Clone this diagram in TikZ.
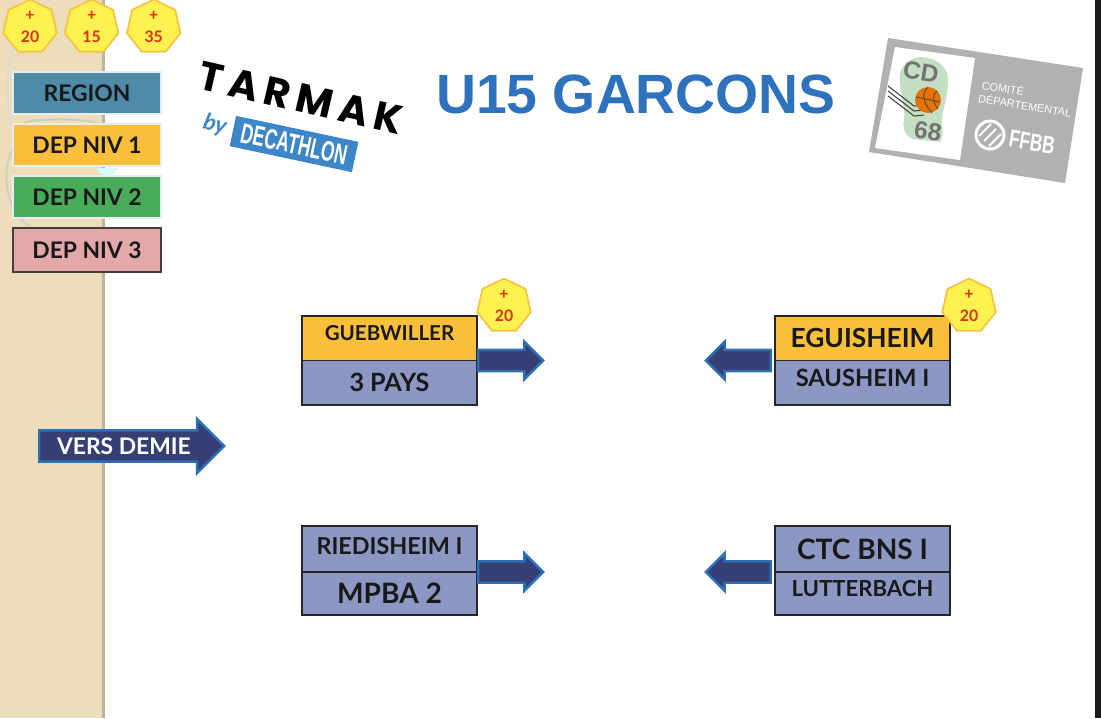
\documentclass[tikz,border=0pt]{standalone}
\usepackage{fontspec}
\setmainfont{Lato}
\newfontfamily\titlefont{Liberation Sans}
\newfontfamily\tarmakfont[LetterSpace=16]{Poppins}
\usetikzlibrary{positioning}
\usetikzlibrary{shapes.geometric}
\usetikzlibrary{shapes.arrows}

\definecolor{panelbeige}{HTML}{EEDDBA}
\definecolor{paneledge}{HTML}{BDB49C}
\definecolor{badgeyellow}{HTML}{FFF14F}
\definecolor{badgeedge}{HTML}{F5C445}
\definecolor{badgered}{HTML}{D9301C}
\definecolor{regionblue}{HTML}{4E8BA9}
\definecolor{niv1}{HTML}{FBBF3C}
\definecolor{niv2}{HTML}{4AAB5A}
\definecolor{niv3}{HTML}{E3A8A8}
\definecolor{teamblue}{HTML}{8C97C4}
\definecolor{arrowfill}{HTML}{353F73}
\definecolor{arrowedge}{HTML}{2E6FB5}
\definecolor{titleblue}{HTML}{2E72BE}
\definecolor{decablue}{HTML}{3D86C8}
\definecolor{logogray}{HTML}{B0B2B1}
\definecolor{logogreen}{HTML}{C5DFC5}

\newcommand{\fsize}[1]{\fontsize{#1}{#1}\selectfont}

\tikzset{
    badge/.style={regular polygon, regular polygon sides=7, minimum size=1.1cm, inner sep=0pt, fill=badgeyellow, draw=badgeedge, line width=1pt, text=badgered, align=center, font=\fontsize{9pt}{12.5pt}\selectfont\bfseries},
    legendbox/.style={rectangle, minimum width=2.96cm, minimum height=0.84cm, inner sep=0pt, outer sep=0pt, draw=white!85!regionblue, line width=0.8pt, font=\fsize{13pt}\bfseries, text=black!90},
    teambox/.style={rectangle, minimum width=3.5cm, minimum height=0.89cm, inner sep=0pt, outer sep=0pt, draw=black!85, line width=0.8pt, fill=teamblue, text=black!90},
    matcharrow/.style={single arrow, anchor=tail, minimum height=1.3cm, inner xsep=0pt, inner ysep=0.19cm, single arrow head extend=0.16cm, fill=arrowfill, draw=arrowedge, line width=1.4pt},
}

\begin{document}
\begin{tikzpicture}[x=0.02cm, y=-0.02cm]
    \useasboundingbox (0, 0) rectangle (1101, 718);

    \fill [panelbeige] (0, 0) rectangle (102, 718);
    \fill [paneledge] (102, 0) rectangle (105, 718);
    \fill [black!90] (1095, 0) rectangle (1101, 718);
    \draw [white!85!black, line width=1pt] (50, 0) .. controls (10, 20) and (0, 80) .. (12, 125);
    \draw [white!80!black, line width=1pt] (12, 150) .. controls (0, 175) and (8, 215) .. (30, 226);
    \draw [white!80!black, line width=1pt] (25, 122) .. controls (50, 118) and (80, 118) .. (100, 124);
    \fill [blue!10!cyan!15] (96, 168) .. controls (102, 178) and (112, 178) .. (118, 168) -- cycle;

    \node [badge] (badgea) at (30, 27) {+\\20};
    \node [badge, right=0.18cm of badgea] (badgeb) {+\\15};
    \node [badge, right=0.19cm of badgeb] (badgec) {+\\35};

    \node [legendbox, fill=regionblue] (region) at (87, 93) {REGION};
    \node [legendbox, fill=niv1, below=0.2cm of region] (depa) {DEP NIV 1};
    \node [legendbox, fill=niv2, below=0.2cm of depa] (depb) {DEP NIV 2};
    \node [legendbox, fill=niv3, draw=black!75, minimum height=0.88cm, below=0.2cm of depb] (depc) {DEP NIV 3};

    \node [rotate=-13, text=black, font=\tarmakfont\fsize{23pt}\bfseries] (tarmak) at (301, 98) {TARMAK};
    \node [rotate=-15, text=decablue, font=\fsize{13pt}\bfseries\itshape] (by) at (215, 125) {by};
    \node [rotate=-12, fill=decablue, minimum width=2.5cm, minimum height=0.62cm, inner sep=0pt] (decabox) at (294, 144) {};
    \node [rotate=-12, xscale=0.62, text=white, font=\titlefont\fsize{16pt}\bfseries] (decathlon) at (decabox) {DECATHLON};

    \node [text=titleblue, font=\titlefont\fsize{31.5pt}\bfseries] (title) at (636, 94) {U15 GARCONS};

    \fill [logogray] (888, 38) -- (1083, 68) -- (1065, 183) -- (869, 152) -- cycle;
    \fill [white] (895, 47) -- (975, 58) -- (960, 160) -- (875, 148) -- cycle;
    \fill [logogreen] (920, 57) .. controls (940, 58) and (950, 70) .. (948, 83) .. controls (947, 100) and (943, 110) .. (942, 117) .. controls (941, 125) and (945, 135) .. (940, 142) -- (912, 139) .. controls (905, 135) and (902, 128) .. (904, 120) .. controls (906, 105) and (898, 90) .. (900, 73) .. controls (902, 65) and (910, 58) .. (920, 57) -- cycle;
    \foreach \i in {0, 5, 10} {
        \draw [black!75, line width=0.6pt] (888, 86 + \i) -- (914, 106 + \i) -- (924, 105 + \i);
    }
    \fill [orange!90!black] (928, 100) circle (13);
    \draw [black!70, line width=0.5pt] (928, 87) .. controls (920, 95) and (925, 105) .. (932, 113);
    \draw [black!70, line width=0.5pt] (916, 97) -- (940, 102);
    \draw [black!70, line width=0.5pt] (937, 91) .. controls (930, 97) and (935, 105) .. (938, 109);
    \node [rotate=-9, text=black!55, font=\titlefont\fsize{14pt}\bfseries] (cd) at (921, 72) {CD};
    \node [rotate=-9, text=black!55, font=\titlefont\fsize{14pt}\bfseries] (dept) at (928, 131) {68};
    \node [rotate=-9, text=white, inner sep=0pt, font=\titlefont\fsize{6.2pt}] (comite) at (1003, 88) {COMITÉ};
    \node [rotate=-9, text=white, inner sep=0pt, font=\titlefont\fsize{6.2pt}] (departement) at (1025, 105) {DÉPARTEMENTAL};
    \draw [white, line width=1.7pt] (990, 135) circle (14);
    \foreach \i in {-5, 0, 5} {
        \draw [white, line width=1.1pt] (984 + \i, 141 + \i) -- (996 + \i, 129 + \i);
    }
    \node [rotate=-9, xscale=0.7, text=white, font=\titlefont\fsize{14pt}\bfseries] (ffbb) at (1032, 142) {FFBB};

    \node [single arrow, anchor=tail, minimum height=3.7cm, inner xsep=0pt, inner ysep=0.12cm, single arrow head extend=0.23cm, fill=arrowfill, draw=arrowedge, line width=1.4pt, text=white, font=\fsize{13pt}\bfseries] (versdemie) at (38, 446) {VERS DEMIE};

    \node [teambox, fill=niv1, anchor=north west, text depth=2mm, font=\fsize{11.7pt}\bfseries] (guebwiller) at (302, 316) {GUEBWILLER};
    \node [teambox, below=0pt of guebwiller, font=\fsize{14.3pt}\bfseries] (troispays) {3 PAYS};
    \node [teambox, fill=niv1, anchor=north west, font=\fsize{15pt}\bfseries] (eguisheim) at (775, 316) {EGUISHEIM};
    \node [teambox, below=0pt of eguisheim, text depth=1.8mm, font=\fsize{13.5pt}\bfseries] (sausheim) {SAUSHEIM I};
    \node [teambox, anchor=north west, text depth=1.2mm, minimum height=0.92cm, font=\fsize{13.3pt}\bfseries] (riedisheim) at (302, 526) {RIEDISHEIM I};
    \node [teambox, below=0pt of riedisheim, minimum height=0.86cm, font=\fsize{16pt}\bfseries] (mpba) {MPBA 2};
    \node [teambox, anchor=north west, minimum height=0.92cm, font=\fsize{16pt}\bfseries] (ctc) at (775, 526) {CTC BNS I};
    \node [teambox, below=0pt of ctc, minimum height=0.86cm, text depth=2mm, font=\fsize{12.6pt}\bfseries] (lutterbach) {LUTTERBACH};

    \node [matcharrow] (arrowa) at (guebwiller.south east) {};
    \node [matcharrow, shape border rotate=180, xshift=-0.06cm] (arrowb) at (eguisheim.south west) {};
    \node [matcharrow] (arrowc) at (riedisheim.south east) {};
    \node [matcharrow, shape border rotate=180, xshift=-0.06cm] (arrowd) at (ctc.south west) {};

    \node [badge] (badged) at (504, 306) {+\\20};
    \node [badge] (badgee) at (969, 306) {+\\20};
\end{tikzpicture}
\end{document}
